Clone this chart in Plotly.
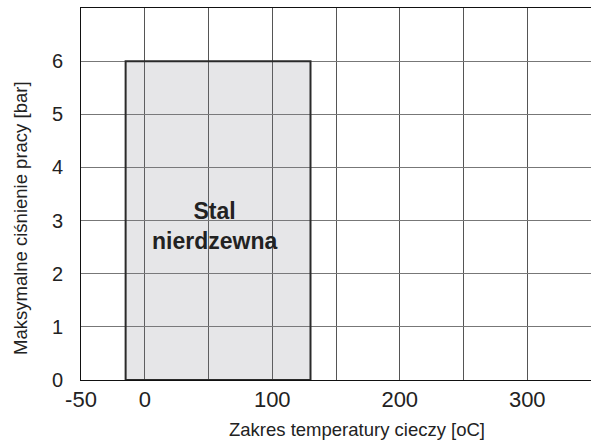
import plotly.graph_objects as go

# Data
material = "Stal<br>nierdzewna"
temp_range = [-15, 130]      # zakres temperatury [oC]
pressure_max = 6             # maks. ciśnienie [bar]
x_tickvals = [-50, 0, 50, 100, 150, 200, 250, 300]
x_ticktext = ["-50", "0", "", "100", "", "200", "", "300"]
y_tickvals = [0, 1, 2, 3, 4, 5, 6, 7]
y_ticktext = ["0", "1", "2", "3", "4", "5", "6", ""]
x_title = "Zakres temperatury cieczy [oC]"
y_title = "Maksymalne ciśnienie pracy [bar]"

xs = [temp_range[0], temp_range[0], temp_range[1], temp_range[1], temp_range[0]]
ys = [0, pressure_max, pressure_max, 0, 0]

FONT = "Liberation Sans, Arial"

fig = go.Figure()
fig.add_trace(go.Scatter(
    x=xs, y=ys, mode="lines", fill="toself",
    fillcolor="rgba(128,128,140,0.2)",
    line=dict(color="#2a2a2a", width=2),
    hoverinfo="skip", showlegend=False,
))
fig.add_annotation(
    x=sum(temp_range) / 2 - 3, y=2.9, text="<b>" + material + "</b>",
    showarrow=False, font=dict(family=FONT, size=23, color="#222"),
)
fig.add_annotation(
    xref="paper", yref="paper", x=0.541, y=-0.133, xanchor="center", yanchor="middle",
    text=x_title, showarrow=False, font=dict(family=FONT, size=18.5, color="#222"),
)
fig.add_annotation(
    xref="paper", yref="paper", x=-0.12, y=0.435, xanchor="center", yanchor="middle",
    text=y_title, textangle=-90, showarrow=False, font=dict(family=FONT, size=18.5, color="#222"),
)

fig.update_layout(
    width=591, height=445,
    margin=dict(l=81, r=0, t=8, b=65),
    paper_bgcolor="white", plot_bgcolor="white",
    font=dict(family=FONT, color="#222"),
    xaxis=dict(
        range=[-50, 350], tickvals=x_tickvals, ticktext=x_ticktext,
        showgrid=True, gridcolor="#555", gridwidth=1,
        showline=True, linecolor="#111", linewidth=1, mirror=True,
        zeroline=False, ticks="", ticklabelstandoff=0, automargin=False,
        tickfont=dict(size=22),
    ),
    yaxis=dict(
        range=[0, 7], tickvals=y_tickvals, ticktext=y_ticktext,
        showgrid=True, gridcolor="#777", gridwidth=1,
        showline=True, linecolor="#111", linewidth=1,
        zeroline=False, ticks="", ticklabelstandoff=13, automargin=False,
        tickfont=dict(size=20),
    ),
)

fig.write_html(
    "out.html",
    config={"displayModeBar": False},
    post_script="document.body.style.margin='0';document.body.style.overflow='hidden';",
)
